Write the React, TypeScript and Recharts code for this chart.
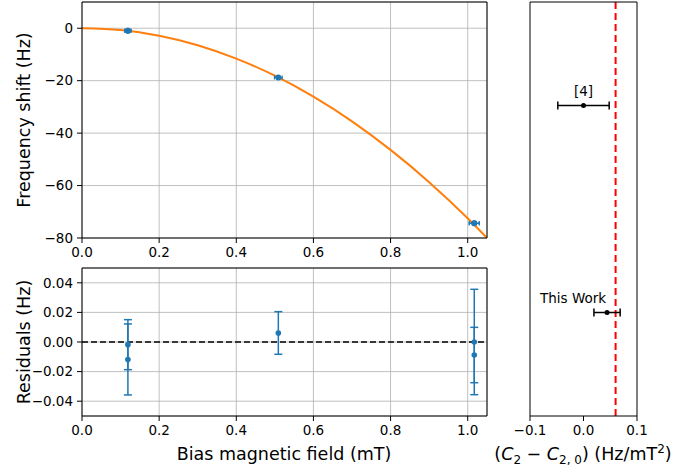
import {
  ComposedChart, ScatterChart, Scatter, Line, XAxis, YAxis, CartesianGrid, ErrorBar, ReferenceLine,
} from "recharts";

// quadratic fit
const fitField = [0, 0.1, 0.2, 0.3, 0.4, 0.5, 0.6, 0.7, 0.8, 0.9, 1.0, 1.05];
const fitShift = [0, -0.7, -2.9, -6.5, -11.6, -18.1, -26.1, -35.5, -46.4, -58.7, -72.5, -80];

// measurements
const measField = [0.119, 0.119, 0.509, 1.017, 1.017];
const measShift = [-1.0, -1.0, -18.8, -74.4, -74.4];
const measFieldErr = [0.008, 0.008, 0.01, 0.013, 0.013];
const residual = [-0.0018, -0.0118, 0.0061, 0.0, -0.0088];
const residualErr = [0.0169, 0.024, 0.0144, 0.0356, 0.0187];

// C2 comparison
const c2Names = ["[4]", "This Work"];
const c2Value = [0.0, 0.044];
const c2Err = [0.048, 0.0245];
const c2Row = [3, 1];
const c2Ref = 0.06;

const fieldTicks = [0, 0.2, 0.4, 0.6, 0.8, 1.0];
const shiftTicks = [-80, -60, -40, -20, 0];
const residTicks = [-0.04, -0.02, 0, 0.02, 0.04];
const c2Ticks = [-0.1, 0, 0.1];

const fitData = fitField.map((x, i) => ({ x, y: fitShift[i] }));
const measData = measField.map((x, i) => ({ x, y: measShift[i], xe: measFieldErr[i] }));
const residData = measField.map((x, i) => ({ x, y: residual[i], ye: residualErr[i] }));
const c2Data = c2Names.map((name, i) => ({ name, x: c2Value[i], y: c2Row[i], xe: c2Err[i] }));

const FONT = "'DejaVu Sans', sans-serif";
const BLUE = "#1f77b4";
const tickStyle = { fill: "#000", fontSize: 13.5, fontFamily: FONT };
const axisLine = { stroke: "#000", strokeWidth: 1 };
const tickLine = { stroke: "#000", strokeWidth: 1 };

const minus = (v: number, d: number) => (v < -1e-9 ? "\u2212" : "") + Math.abs(v).toFixed(d);

// label offsets for the comparison panel
const labelDx: Record<string, number> = { "[4]": 0, "This Work": -34 };

const dot = (r: number, fill: string) => (p: any) => <circle cx={p.cx} cy={p.cy} r={r} fill={fill} />;

const c2Shape = (p: any) => (
  <g>
    <circle cx={p.cx} cy={p.cy} r={2.5} fill="#000" />
    <text x={p.cx + labelDx[p.payload.name]} y={p.cy - 10} textAnchor="middle" fontSize={13.5} fontFamily={FONT} fill="#000">
      {p.payload.name}
    </text>
  </g>
);

const full = { position: "absolute" as const, left: 0, top: 0 };

export default function App() {
  return (
    <div style={{ position: "absolute", left: 0, top: 0, width: 693, height: 466, background: "#fff", fontFamily: FONT }}>
      <div style={full}>
        <ComposedChart width={693} height={466} data={fitData} margin={{ top: 1, right: 205, bottom: 198, left: 0 }}>
          <CartesianGrid stroke="#b0b0b0" strokeWidth={0.8} />
          <XAxis dataKey="x" type="number" domain={[0, 1.05]} ticks={fieldTicks} tickFormatter={(v) => minus(v, 1)}
            allowDataOverflow tick={tickStyle} axisLine={axisLine} tickLine={tickLine} tickSize={5} tickMargin={4} height={30} />
          <XAxis xAxisId="top" orientation="top" dataKey="x" type="number" domain={[0, 1.05]} tick={false} tickLine={false} axisLine={axisLine} height={1} />
          <YAxis type="number" domain={[-80, 10]} ticks={shiftTicks} tickFormatter={(v) => minus(v, 0)} allowDataOverflow
            tick={tickStyle} axisLine={axisLine} tickLine={tickLine} tickSize={5} tickMargin={4} width={82} />
          <YAxis yAxisId="right" orientation="right" type="number" domain={[-80, 10]} tick={false} tickLine={false} axisLine={axisLine} width={1} />
          <Line dataKey="y" type="monotone" stroke="#ff7f0e" strokeWidth={2} dot={false} isAnimationActive={false} />
          <Scatter data={measData} dataKey="y" fill={BLUE} shape={dot(3, BLUE)} isAnimationActive={false}>
            <ErrorBar dataKey="xe" direction="x" width={2} stroke={BLUE} strokeWidth={1.2} />
          </Scatter>
        </ComposedChart>
      </div>

      <div style={full}>
        <ScatterChart width={693} height={466} margin={{ top: 267, right: 205, bottom: 20, left: 0 }}>
          <CartesianGrid stroke="#b0b0b0" strokeWidth={0.8} />
          <XAxis dataKey="x" type="number" domain={[0, 1.05]} ticks={fieldTicks} tickFormatter={(v) => minus(v, 1)}
            allowDataOverflow tick={tickStyle} axisLine={axisLine} tickLine={tickLine} tickSize={5} tickMargin={4} height={30} />
          <XAxis xAxisId="top" orientation="top" dataKey="x" type="number" domain={[0, 1.05]} tick={false} tickLine={false} axisLine={axisLine} height={1} />
          <YAxis dataKey="y" type="number" domain={[-0.05, 0.05]} ticks={residTicks} tickFormatter={(v) => minus(v, 2)} allowDataOverflow
            tick={tickStyle} axisLine={axisLine} tickLine={tickLine} tickSize={5} tickMargin={4} width={82} />
          <YAxis yAxisId="right" orientation="right" type="number" domain={[-0.05, 0.05]} tick={false} tickLine={false} axisLine={axisLine} width={1} />
          <ReferenceLine y={0} stroke="#000" strokeWidth={1.5} strokeDasharray="6 3" />
          <Scatter data={residData} fill={BLUE} shape={dot(2.8, BLUE)} isAnimationActive={false}>
            <ErrorBar dataKey="ye" direction="y" width={4} stroke={BLUE} strokeWidth={1.5} />
          </Scatter>
        </ScatterChart>
      </div>

      <div style={full}>
        <ScatterChart width={693} height={466} margin={{ top: 1, right: 55, bottom: 20, left: 529 }}>
          <XAxis dataKey="x" type="number" domain={[-0.1, 0.1]} ticks={c2Ticks} tickFormatter={(v) => minus(v, 1)}
            allowDataOverflow tick={tickStyle} axisLine={axisLine} tickLine={tickLine} tickSize={5} tickMargin={4} height={30} />
          <XAxis xAxisId="top" orientation="top" dataKey="x" type="number" domain={[-0.1, 0.1]} tick={false} tickLine={false} axisLine={axisLine} height={1} />
          <YAxis dataKey="y" type="number" domain={[0, 4]} tick={false} tickLine={false} axisLine={axisLine} width={1} />
          <YAxis yAxisId="right" orientation="right" type="number" domain={[0, 4]} tick={false} tickLine={false} axisLine={axisLine} width={1} />
          <ReferenceLine x={c2Ref} stroke="#ff0000" strokeWidth={2} strokeDasharray="7 4" />
          <Scatter data={c2Data} fill="#000" shape={c2Shape} isAnimationActive={false}>
            <ErrorBar dataKey="xe" direction="x" width={4} stroke="#000" strokeWidth={1.5} />
          </Scatter>
        </ScatterChart>
      </div>

      <svg width={693} height={466} style={{ ...full, pointerEvents: "none" }} fontFamily={FONT} fill="#000">
        <text x={24} y={120} fontSize={17.5} textAnchor="middle" dominantBaseline="central" transform="rotate(-90 24 120)">
          Frequency shift (Hz)
        </text>
        <text x={24} y={342} fontSize={17.5} textAnchor="middle" dominantBaseline="central" transform="rotate(-90 24 342)">
          Residuals (Hz)
        </text>
        <text x={284} y={460} fontSize={17.5} textAnchor="middle">Bias magnetic field (mT)</text>
        <text x={583} y={460} fontSize={17.5} textAnchor="middle">
          (<tspan fontStyle="italic">C</tspan>
          <tspan fontSize={12} dy={4}>2</tspan>
          <tspan dy={-4}> − </tspan>
          <tspan fontStyle="italic">C</tspan>
          <tspan fontSize={12} dy={4}>2, 0</tspan>
          <tspan dy={-4}>) (Hz/mT</tspan>
          <tspan fontSize={12} dy={-7}>2</tspan>
          <tspan dy={7}>)</tspan>
        </text>
      </svg>
    </div>
  );
}
